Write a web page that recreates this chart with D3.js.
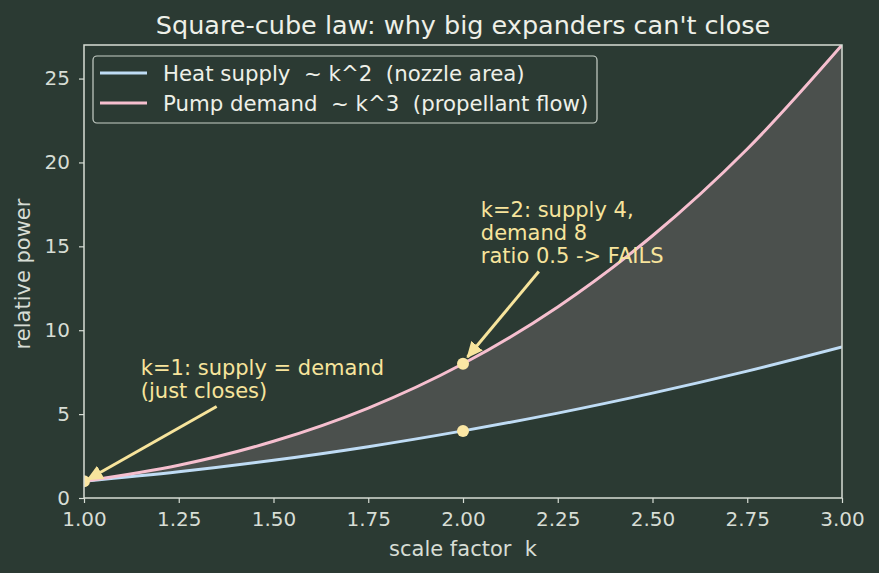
<!DOCTYPE html>
<head>
    <title>Square-cube law</title>
    <script src="https://d3js.org/d3.v7.min.js"></script>
</head>
<style>
body { margin: 0; background: #2b3a33; }
svg { display: block; font-family: "DejaVu Sans", sans-serif; }
text { white-space: pre; }
</style>
<body>
    <svg></svg>
</body>
<script>

    // Data
    var scaleK   = [1.00, 1.25, 1.50, 1.75, 2.00, 2.25, 2.50, 2.75, 3.00];
    var heatSupply = [1.00, 1.56, 2.25, 3.06, 4.00, 5.06, 6.25, 7.56, 9.00];
    var pumpDemand = [1.00, 1.95, 3.38, 5.36, 8.00, 11.39, 15.63, 20.80, 27.00];
    var xTicks = [1.00, 1.25, 1.50, 1.75, 2.00, 2.25, 2.50, 2.75, 3.00];
    var yTicks = [0, 5, 10, 15, 20, 25];
    var markerPoints = [[1, 1], [2, 8], [2, 4]];
    var seriesNames = ["Heat supply  ~ k^2  (nozzle area)", "Pump demand  ~ k^3  (propellant flow)"];

    var width = 879, height = 573;
    var margin = {top: 45, right: 37, bottom: 75, left: 84};
    var fg = "#d7ddd5";
    var noteColor = "#f7e49c";

    var svg = d3.select('svg').attr('width', width).attr('height', height);
    svg.append('rect').attr('width', width).attr('height', height).attr('fill', '#2b3a33');

    var x = d3.scaleLinear().domain([1, 3]).range([margin.left, width - margin.right]);
    var y = d3.scaleLinear().domain([0, 27]).range([height - margin.bottom, margin.top]);

    svg.append('clipPath').attr('id', 'plot').append('rect')
        .attr('x', margin.left).attr('y', margin.top)
        .attr('width', width - margin.left - margin.right)
        .attr('height', height - margin.top - margin.bottom);

    var rows = scaleK.map(function (k, i) { return {k: k, s: heatSupply[i], d: pumpDemand[i]}; });
    var plot = svg.append('g').attr('clip-path', 'url(#plot)');

    // gap between the two curves
    var area = d3.area().curve(d3.curveCatmullRom)
        .x(function (d) { return x(d.k); })
        .y0(function (d) { return y(d.s); })
        .y1(function (d) { return y(d.d); });
    plot.append('path').datum(rows).attr('d', area).attr('fill', '#4b504d');

    var lineS = d3.line().curve(d3.curveCatmullRom).x(function (d) { return x(d.k); }).y(function (d) { return y(d.s); });
    var lineD = d3.line().curve(d3.curveCatmullRom).x(function (d) { return x(d.k); }).y(function (d) { return y(d.d); });
    plot.append('path').datum(rows).attr('d', lineS).attr('fill', 'none').attr('stroke', '#bfdcf5').attr('stroke-width', 3);
    plot.append('path').datum(rows).attr('d', lineD).attr('fill', 'none').attr('stroke', '#f6bfcf').attr('stroke-width', 3);

    plot.selectAll('.pt').data(markerPoints).enter().append('circle')
        .attr('cx', function (d) { return x(d[0]); }).attr('cy', function (d) { return y(d[1]); })
        .attr('r', 6).attr('fill', '#fbe7a4');

    // Axes
    var xAxis = svg.append('g').attr('transform', 'translate(0,' + (height - margin.bottom) + ')')
        .call(d3.axisBottom(x).tickValues(xTicks).tickFormat(d3.format('.2f')).tickSizeOuter(0).tickSize(5).tickPadding(9));
    var yAxis = svg.append('g').attr('transform', 'translate(' + margin.left + ',0)')
        .call(d3.axisLeft(y).tickValues(yTicks).tickSizeOuter(0).tickSize(5).tickPadding(9));
    [xAxis, yAxis].forEach(function (a) {
        a.select('.domain').remove();
        a.selectAll('line').attr('stroke', fg).attr('stroke-width', 1.2);
        a.selectAll('text').attr('fill', fg).style('font-size', '20px').style('font-family', '"DejaVu Sans"');
    });

    // Spines
    svg.append('rect')
        .attr('x', margin.left).attr('y', margin.top)
        .attr('width', width - margin.left - margin.right)
        .attr('height', height - margin.top - margin.bottom)
        .attr('fill', 'none').attr('stroke', fg).attr('stroke-width', 1.5);

    // Labels
    svg.append('text').attr('x', (x(1) + x(3)) / 2).attr('y', 34).attr('text-anchor', 'middle')
        .attr('fill', '#eef0e8').style('font-size', '25.5px').text("Square-cube law: why big expanders can't close");
    svg.append('text').attr('x', (x(1) + x(3)) / 2).attr('y', 556).attr('text-anchor', 'middle')
        .attr('fill', fg).style('font-size', '21px').text('scale factor  k');
    svg.append('text').attr('transform', 'translate(30,274)rotate(-90)').attr('text-anchor', 'middle')
        .attr('fill', fg).style('font-size', '21px').text('relative power');

    // Arrow head
    svg.append('defs').append('marker').attr('id', 'head')
        .attr('viewBox', '0 0 10 10').attr('refX', 9).attr('refY', 5)
        .attr('markerWidth', 5.5).attr('markerHeight', 5.5).attr('orient', 'auto')
        .append('path').attr('d', 'M0,0.5 L10,5 L0,9.5 Z').attr('fill', noteColor);

    function note(lines, tx, ty, ax0, ay0, ax1, ay1) {
        var t = svg.append('text').attr('fill', noteColor).style('font-size', '21px');
        lines.forEach(function (l, i) {
            t.append('tspan').attr('x', x(tx)).attr('y', y(ty) + i * 23.3).text(l);
        });
        svg.append('line').attr('x1', x(ax0)).attr('y1', y(ay0)).attr('x2', x(ax1)).attr('y2', y(ay1))
            .attr('stroke', noteColor).attr('stroke-width', 3).attr('marker-end', 'url(#head)');
    }

    note(["k=1: supply = demand", "(just closes)"], 1.15, 7.33, 1.35, 5.45, 1.01, 1.1);
    note(["k=2: supply 4,", "demand 8", "ratio 0.5 -> FAILS"], 2.047, 16.76, 2.2, 13.5, 2.012, 8.4);

    // Legend
    var lg = svg.append('g');
    lg.append('rect').attr('x', 93).attr('y', 56).attr('width', 504).attr('height', 67).attr('rx', 4)
        .attr('fill', '#2b3a33').attr('stroke', '#c8d0c8').attr('stroke-width', 1.2);
    var colors = ['#bfdcf5', '#f6bfcf'];
    seriesNames.forEach(function (n, i) {
        var yy = 73 + i * 30;
        lg.append('line').attr('x1', 100).attr('x2', 147).attr('y1', yy).attr('y2', yy)
            .attr('stroke', colors[i]).attr('stroke-width', 3);
        lg.append('text').attr('x', 163).attr('y', yy + 7.5).attr('fill', '#eef0e8')
            .style('font-size', '21.3px').text(n);
    });

</script>
